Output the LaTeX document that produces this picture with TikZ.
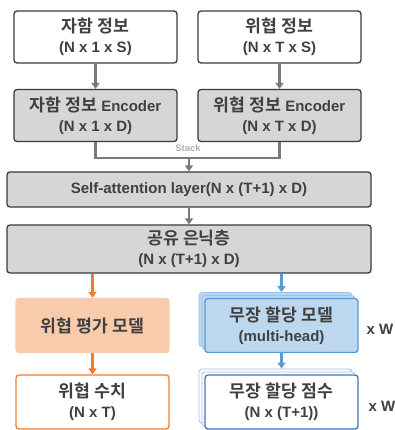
\documentclass[tikz,border=0pt]{standalone}
\usepackage{fontspec}
\setmainfont{Liberation Sans}
\newfontfamily\kr{Noto Sans CJK KR}[BoldFont={* Bold}, Scale=1.15]
\usetikzlibrary{arrows.meta}

\definecolor{boxline}{HTML}{3A3A3A}
\definecolor{boxgray}{HTML}{D6D6D6}
\definecolor{arrowgray}{HTML}{7A7A7A}
\definecolor{txtgray}{HTML}{404040}
\definecolor{evalorange}{HTML}{ED7D31}
\definecolor{evalfill}{HTML}{F8CBAD}
\definecolor{headblue}{HTML}{5B9BD5}
\definecolor{headfill}{HTML}{BDD7EE}
\definecolor{scoreblue}{HTML}{4472C4}
\definecolor{backblue}{HTML}{9DC3E6}

\tikzset{
	block/.style={draw=boxline, line width=1.3pt, rounded corners=3pt, align=center,
		text=txtgray, font=\bfseries\fontsize{15}{20}\selectfont, inner sep=0pt},
	half/.style={block, minimum width=163pt, minimum height=52pt},
	wide/.style={block, fill=boxgray, minimum width=364pt},
	small/.style={block, minimum width=153pt, minimum height=54pt},
	flow/.style={arrowgray, line width=2.2pt, -{Triangle[length=6pt,width=8pt]}},
}

\begin{document}
\begin{tikzpicture}[x=1pt, y=-1pt]

\def\xl{95.5}
\def\xr{279.5}
\def\xa{92.5}
\def\xb{281.5}

\useasboundingbox (0,0) rectangle (394,430);

% inputs and encoders
\node[half, fill=white] (self) at (\xl,37) {{\kr 자함 정보}\\(N x 1 x S)};
\node[half, fill=white] (threat) at (\xr,37) {{\kr 위협 정보}\\(N x T x S)};
\node[half, fill=boxgray] (selfenc) at (\xl,115.5) {{\kr 자함 정보} Encoder\\(N x 1 x D)};
\node[half, fill=boxgray] (threatenc) at (\xr,115.5) {{\kr 위협 정보} Encoder\\(N x T x D)};

\draw[flow] (self) -- (selfenc);
\draw[flow] (threat) -- (threatenc);

% stack
\coordinate (stack) at (189,158);
\draw[arrowgray, line width=2.2pt] (selfenc.south) |- (stack) -| (threatenc.south);
\node[text=arrowgray!60, font=\bfseries\fontsize{9.5}{11}\selectfont] (stacklbl) at (188,148.5) {Stack};

\node[wide, minimum height=35pt] (attn) at (189,189.5) {Self-attention layer(N x (T+1) x D)};
\node[wide, minimum height=48pt] (hidden) at (189,249) {{\kr 공유 은닉층}\\(N x (T+1) x D)};

\draw[flow] (stack) -- (attn);
\draw[flow] (attn) -- (hidden);

% heads
\node[small, draw=evalfill, fill=evalfill] (eval) at (\xa,325.5) {{\kr 위협 평가 모델}};
\foreach \s in {6,3} {
	\node[small, draw=headblue!60, fill=headfill, line width=0.8pt] (model\s) at (\xb-\s,325.5-\s) {};
}
\node[small, draw=headblue, fill=headfill] (model) at (\xb,325.5) {{\kr 무장 할당 모델}\\(multi-head)};

\node[small, draw=evalorange, fill=white] (value) at (\xa,402) {{\kr 위협 수치}\\(N x T)};
\foreach \s in {6,3} {
	\node[small, draw=backblue, fill=white, line width=0.8pt] (score\s) at (\xb-\s,402-\s) {};
}
\node[small, draw=scoreblue, fill=white] (score) at (\xb,402) {{\kr 무장 할당 점수}\\(N x (T+1))};

\draw[flow, evalorange] (eval.north |- hidden.south) -- (eval);
\draw[flow, headblue] (model.north |- hidden.south) -- (model6.north -| model.north);
\draw[flow, evalorange] (eval) -- (value);
\draw[flow, headblue] (model) -- (score6.north -| model.north);

\node[anchor=west, text=txtgray, font=\bfseries\fontsize{15}{18}\selectfont] (xw1) at (363,329) {x W};
\node[anchor=west, text=txtgray, font=\bfseries\fontsize{15}{18}\selectfont] (xw2) at (365,406) {x W};

\end{tikzpicture}
\end{document}
